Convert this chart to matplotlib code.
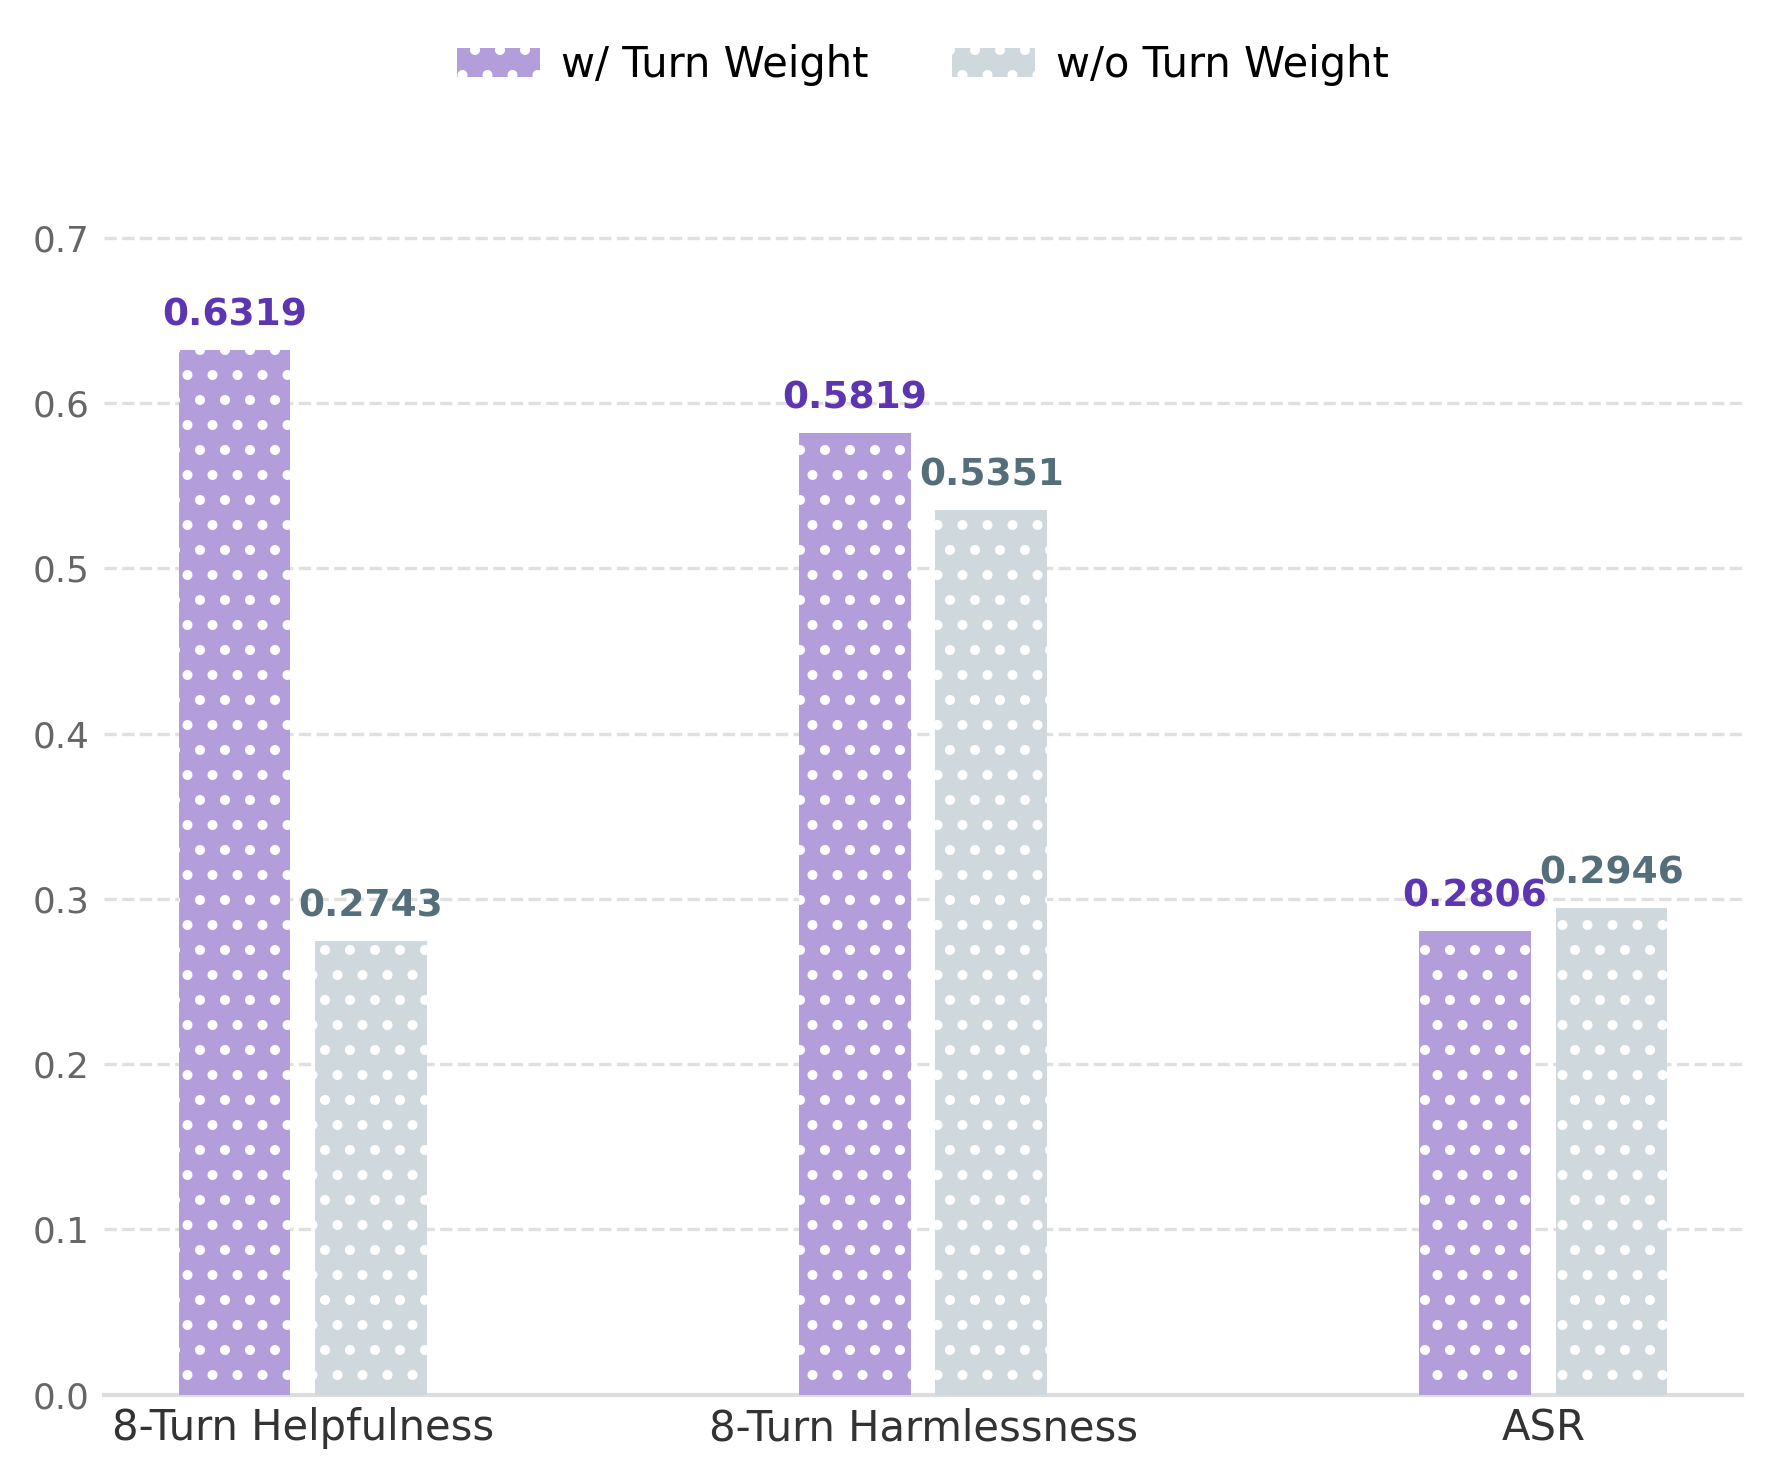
import numpy as np
import matplotlib
matplotlib.use("Agg")
import matplotlib.pyplot as plt

# data
categories = ['8-Turn Helpfulness', '8-Turn Harmlessness', 'ASR']
with_weight = [0.6319, 0.5819, 0.2806]
without_weight = [0.2743, 0.5351, 0.2946]
series_names = ['w/ Turn Weight', 'w/o Turn Weight']

bar_colors = ['#b39ddb', '#cfd8dc']
text_colors = ['#5e35b1', '#546e7a']

plt.rcParams['font.family'] = ['DejaVu Sans']
plt.rcParams['hatch.linewidth'] = 1.2

fig, ax = plt.subplots(figsize=(5.9, 4.93), dpi=300)

x = np.arange(len(categories))
width = 0.18
offset = 0.11

for i, (vals, name) in enumerate(zip([with_weight, without_weight], series_names)):
    pos = x - offset if i == 0 else x + offset
    ax.bar(pos, vals, width, color=bar_colors[i], edgecolor='white',
           hatch='..', linewidth=0, label=name, zorder=3)
    for px, v in zip(pos, vals):
        ax.text(px, v + 0.01, f'{v:.4f}', ha='center', va='bottom',
                fontsize=9, fontweight='bold', color=text_colors[i], zorder=4)

ax.set_ylim(0, 0.75)
ax.set_yticks(np.arange(0, 0.71, 0.1))
ax.set_yticklabels([f'{t:.1f}' for t in np.arange(0, 0.71, 0.1)])
ax.set_xticks(x)
ax.set_xticklabels(categories, fontsize=10, color='#333333')
ax.tick_params(axis='y', labelsize=8.6, labelcolor='#666666', length=0)
ax.tick_params(axis='x', length=0, pad=3)

ax.grid(axis='y', linestyle='--', color='#e0e0e0', linewidth=0.8, zorder=0)
ax.set_axisbelow(True)
for s in ['top', 'right', 'left']:
    ax.spines[s].set_visible(False)
ax.spines['bottom'].set_color('#dddddd')
ax.spines['bottom'].set_linewidth(1.0)

ax.legend(loc='center', bbox_to_anchor=(0.5, 1.073), ncol=2, frameon=False,
          fontsize=10, handletextpad=0.5)

plt.subplots_adjust(left=0.059, right=0.984, bottom=0.057, top=0.895)
plt.savefig('out.png', dpi=300)
